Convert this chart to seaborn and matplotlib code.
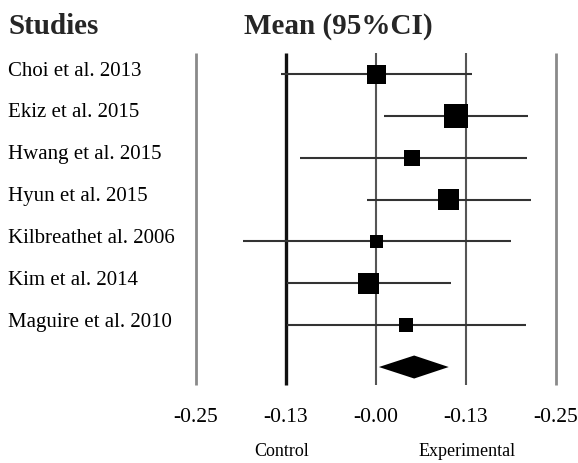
import matplotlib
matplotlib.use("Agg")
import matplotlib.pyplot as plt
import matplotlib.transforms as mtransforms
import seaborn as sns
import pandas as pd
import numpy as np

studies = ["Choi et al. 2013", "Ekiz et al. 2015", "Hwang et al. 2015", "Hyun et al. 2015",
           "Kilbreathet al. 2006", "Kim et al. 2014", "Maguire et al. 2010"]
means = [0.000, 0.111, 0.050, 0.101, 0.000, -0.010, 0.042]
lower = [-0.132, 0.011, -0.106, -0.012, -0.185, -0.124, -0.124]
upper = [0.133, 0.211, 0.210, 0.215, 0.188, 0.104, 0.208]
weights = [19, 24, 16, 21, 13, 21, 14]  # relative square side
pooled_mean = 0.053
pooled_low = 0.004
pooled_high = 0.101
tick_values = [-0.25, -0.125, 0.0, 0.125, 0.25]
tick_labels = ["-0.25", "-0.13", "-0.00", "-0.13", "-0.25"]

sns.set_theme(style="white")
plt.rcParams["font.family"] = ["Liberation Serif", "DejaVu Serif"]

W, H = 578, 463
fig = plt.figure(figsize=(W / 100, H / 100), dpi=100)
ax = fig.add_axes([0, 0, 1, 1])
ax.set_axis_off()

# pixel mapping
px0, pxu = 376, 720.0
row0, rowstep = 74, 41.86
ax.set_xlim((0 - px0) / pxu, (W - px0) / pxu)
ax.set_ylim((H - row0) / rowstep, (0 - row0) / rowstep)

rows = np.arange(len(studies))
df = pd.DataFrame({"study": studies, "mean": means, "lower": lower, "upper": upper,
                   "w": weights, "row": rows})

# reference vertical lines
vcolors = ["#8a8a8a", "#111111", "#555555", "#555555", "#8a8a8a"]
vwidths = [2.0, 2.4, 1.5, 1.5, 2.0]
ytop, ybot = (53 - row0) / rowstep, (385 - row0) / rowstep
for v, c, lw in zip(tick_values, vcolors, vwidths):
    ax.vlines(v, ytop, ybot, color=c, linewidth=lw, zorder=1)

# CI lines
ax.hlines(df["row"], df["lower"], df["upper"], color="#333333", linewidth=1.5, zorder=2)

# squares
side_pt = np.array(weights) * 0.72
sns.scatterplot(data=df, x="mean", y="row", marker="s", s=side_pt ** 2, color="black",
                edgecolor="black", linewidth=0, ax=ax, zorder=3, legend=False)
ax.set_axis_off()

# pooled diamond
yd = len(studies)
dh = 11.5 / rowstep
ax.fill([pooled_low, pooled_mean, pooled_high, pooled_mean],
        [yd, yd - dh, yd, yd + dh], color="black", zorder=3, linewidth=0)

# text
blend = mtransforms.blended_transform_factory(fig.transFigure, ax.transData)
for s, r in zip(studies, rows):
    ax.text(8 / W, r - 0.07, s, transform=blend, ha="left", va="center", fontsize=15, color="black")

fig.text(8 / W, 1 - 27 / H, "Studies", ha="left", va="center", fontsize=21, fontweight="bold")
fig.text(338 / W, 1 - 27 / H, "Mean (95%CI)", ha="center", va="center", fontsize=21, fontweight="bold")

ytick = (417 - row0) / rowstep
for v, lab in zip(tick_values, tick_labels):
    ax.text(v, ytick, lab, ha="center", va="center", fontsize=15.5, color="black")

ylab = (451 - row0) / rowstep
ax.text((282 - px0) / pxu, ylab, "Control", ha="center", va="center", fontsize=13, color="black")
ax.text((467 - px0) / pxu, ylab, "Experimental", ha="center", va="center", fontsize=13, color="black")

fig.savefig("out.png", dpi=100)
